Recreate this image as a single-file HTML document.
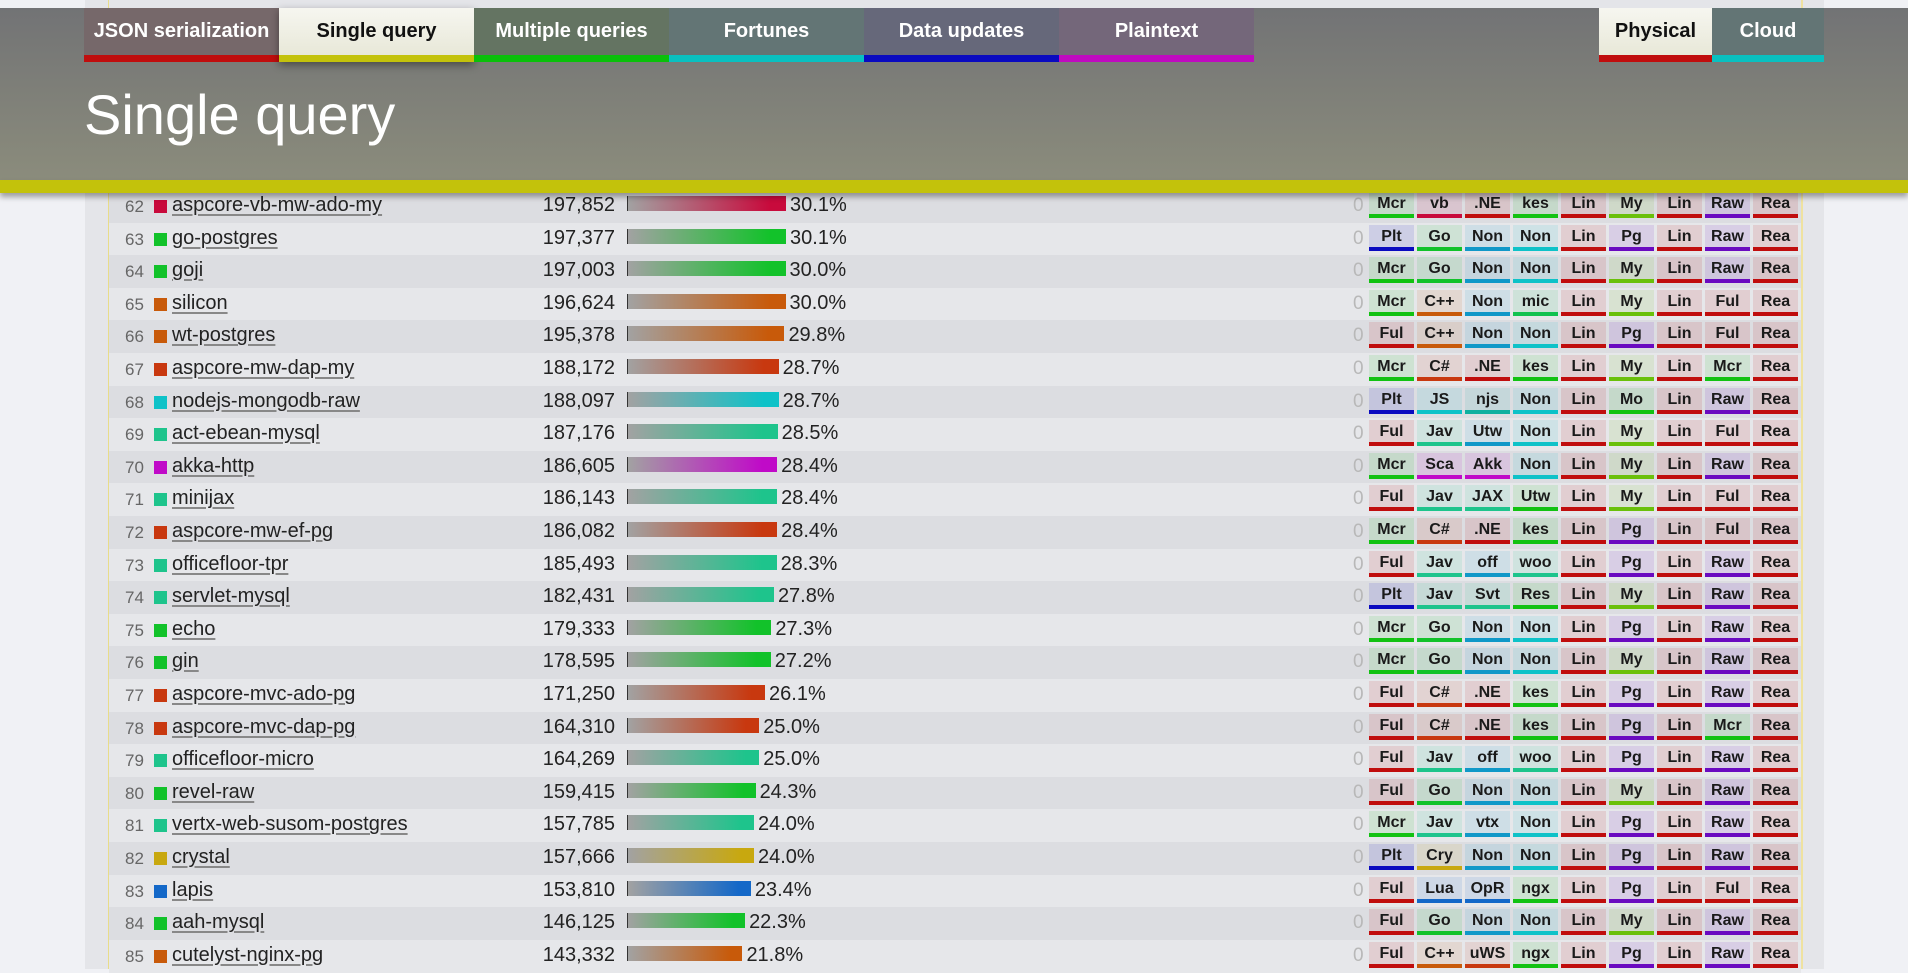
<!DOCTYPE html>
<html><head><meta charset="utf-8">
<style>
html,body{margin:0;padding:0;width:1908px;height:969px;overflow:hidden;background:#f0f1f5;font-family:"Liberation Sans Narrow","Liberation Sans",sans-serif;}
#panel{position:absolute;left:85px;top:0;width:1739px;height:969px;background:#e4e5e9;}
#rows{position:absolute;left:108px;top:0;width:1692px;height:969px;border-left:1px solid #e8dc8a;border-right:2px solid #efe2a0;}
.row{position:absolute;left:0;width:1692px;height:33px;}
.row span{position:absolute;white-space:nowrap;}
.rank{color:#666;font-size:17px;top:7px;}
.sq{width:13px;height:13px;top:10px;}
.nm{color:#222;font-size:20px;top:4px;text-decoration:underline;text-decoration-color:#888;text-underline-offset:3px;}
.val{color:#222;font-size:20px;top:4px;text-align:right;width:110px;}
.bar{top:6px;height:15px;border-left:1px solid #333;}
.pct{color:#222;font-size:20px;top:4px;}
.zero{color:#b8b8b8;font-size:19px;top:5px;}
.cell{top:2px;width:45px;height:26px;text-align:center;font-weight:bold;font-size:16px;line-height:24px;color:#1a1a1a;box-sizing:border-box;border-bottom:4px solid;}
#header{position:absolute;left:0;top:8px;width:1908px;height:172px;background:linear-gradient(#727375,#8b8c7c);}
#band{position:absolute;left:0;top:180px;width:1908px;height:13px;background:#c3c20b;box-shadow:0 4px 6px rgba(0,0,0,.35);}
.tab{position:absolute;top:8px;height:47px;width:195px;text-align:center;color:#fff;font-weight:bold;font-size:20px;line-height:46px;border-bottom:7px solid;}
#title{position:absolute;left:84px;top:82px;color:#fff;font-size:56px;}
</style></head>
<body>
<div id="panel"></div>
<div id="rows"></div>
<div id="header"></div>
<div id="band"></div>
<div class="tab" style="left:84px;background:#76686a;border-color:#c00d0d">JSON serialization</div>
<div class="tab" style="left:279px;background:linear-gradient(#f6f6f0,#e8e8d8);color:#111;border-color:#c3c20b;box-shadow:0 3px 8px rgba(0,0,0,.4)">Single query</div>
<div class="tab" style="left:474px;background:#647462;border-color:#0ac00a">Multiple queries</div>
<div class="tab" style="left:669px;background:#637575;border-color:#0ac0c0">Fortunes</div>
<div class="tab" style="left:864px;background:#66687a;border-color:#0a0ac0">Data updates</div>
<div class="tab" style="left:1059px;background:#74677a;border-color:#c00ac0">Plaintext</div>
<div class="tab" style="left:1599px;width:113px;background:linear-gradient(#f6f6f0,#e8e8d8);color:#111;border-color:#c00d0d">Physical</div>
<div class="tab" style="left:1712px;width:112px;background:#637575;border-color:#0ac0c0">Cloud</div>
<div id="title">Single query</div>
<script>
const ranks=[62,63,64,65,66,67,68,69,70,71,72,73,74,75,76,77,78,79,80,81,82,83,84,85];
const names=["aspcore-vb-mw-ado-my","go-postgres","goji","silicon","wt-postgres","aspcore-mw-dap-my","nodejs-mongodb-raw","act-ebean-mysql","akka-http","minijax","aspcore-mw-ef-pg","officefloor-tpr","servlet-mysql","echo","gin","aspcore-mvc-ado-pg","aspcore-mvc-dap-pg","officefloor-micro","revel-raw","vertx-web-susom-postgres","crystal","lapis","aah-mysql","cutelyst-nginx-pg"];
const values=[197852,197377,197003,196624,195378,188172,188097,187176,186605,186143,186082,185493,182431,179333,178595,171250,164310,164269,159415,157785,157666,153810,146125,143332];
const pcts=[30.1,30.1,30.0,30.0,29.8,28.7,28.7,28.5,28.4,28.4,28.4,28.3,27.8,27.3,27.2,26.1,25.0,25.0,24.3,24.0,24.0,23.4,22.3,21.8];
const langs=["vb","Go","Go","C++","C++","C#","JS","Jav","Sca","Jav","C#","Jav","Jav","Go","Go","C#","C#","Jav","Go","Jav","Cry","Lua","Go","C++"];
const tags=[
"Mcr vb .NE kes Lin My Lin Raw Rea","Plt Go Non Non Lin Pg Lin Raw Rea","Mcr Go Non Non Lin My Lin Raw Rea","Mcr C++ Non mic Lin My Lin Ful Rea",
"Ful C++ Non Non Lin Pg Lin Ful Rea","Mcr C# .NE kes Lin My Lin Mcr Rea","Plt JS njs Non Lin Mo Lin Raw Rea","Ful Jav Utw Non Lin My Lin Ful Rea",
"Mcr Sca Akk Non Lin My Lin Raw Rea","Ful Jav JAX Utw Lin My Lin Ful Rea","Mcr C# .NE kes Lin Pg Lin Ful Rea","Ful Jav off woo Lin Pg Lin Raw Rea",
"Plt Jav Svt Res Lin My Lin Raw Rea","Mcr Go Non Non Lin Pg Lin Raw Rea","Mcr Go Non Non Lin My Lin Raw Rea","Ful C# .NE kes Lin Pg Lin Raw Rea",
"Ful C# .NE kes Lin Pg Lin Mcr Rea","Ful Jav off woo Lin Pg Lin Raw Rea","Ful Go Non Non Lin My Lin Raw Rea","Mcr Jav vtx Non Lin Pg Lin Raw Rea",
"Plt Cry Non Non Lin Pg Lin Raw Rea","Ful Lua OpR ngx Lin Pg Lin Ful Rea","Ful Go Non Non Lin My Lin Raw Rea","Ful C++ uWS ngx Lin Pg Lin Raw Rea"];
const langColor={"vb":"#c80a3c","Go":"#12c22a","C++":"#c85a0a","C#":"#c8380f","JS":"#0ec2c8","Jav":"#1ec48c","Sca":"#c00ac8","Cry":"#c8a80f","Lua":"#1468c8"};
const colColor=[
 {Mcr:"#12c212",Plt:"#0a0ac0",Ful:"#c00d0d"},
 langColor,
 {".NE":"#c00d0d",Non:"#1098c8",mic:"#12c250",njs:"#10b0a0",Utw:"#1098c8",Akk:"#c00ac8",JAX:"#1ec48c",off:"#1098c8",Svt:"#1ec48c",vtx:"#1098c8",OpR:"#1468c8",uWS:"#c8380f"},
 {kes:"#12c212",Non:"#0ec2c8",mic:"#12c250",Utw:"#12c212",woo:"#1ec48c",Res:"#12c212",ngx:"#12c212"},
 {Lin:"#c00d0d"},
 {My:"#6ac00a",Pg:"#6a0ac0",Mo:"#12c212"},
 {Lin:"#c00d0d"},
 {Raw:"#6a0ac0",Ful:"#c00d0d",Mcr:"#12c212"},
 {Rea:"#c00d0d"}];
const rowsEl=document.getElementById('rows');
const rowY=i=>190+i*32.6;
const barW=p=>p*5.25;
ranks.forEach((r,i)=>{
 const row=document.createElement('div');
 row.className='row';
 
 
 row.style.top=rowY(i)+'px';
 row.style.background=i%2===0?'#dcdde1':'#e6e7ea';
 const c=langColor[langs[i]];
 const rk=document.createElement('span');rk.className='rank';rk.style.left='16px';rk.textContent=r;
 
 
 const sq=document.createElement('span');sq.className='sq';sq.style.left='45px';sq.style.background=c;
 
 
 const nm=document.createElement('span');nm.className='nm';nm.style.left='63px';nm.textContent=names[i];
 
 
 const v=document.createElement('span');v.className='val';v.style.left='396px';v.textContent=values[i].toLocaleString('en-US');
 
 
 const b=document.createElement('span');b.className='bar';b.style.left='518px';b.style.width=barW(pcts[i])+'px';
 b.style.background='linear-gradient(90deg,#a2a2a2,'+c+' 90%)';
 
 
 const p=document.createElement('span');p.className='pct';p.style.left=(523+barW(pcts[i]))+'px';p.textContent=pcts[i].toFixed(1)+'%';
 
 
 const z=document.createElement('span');z.className='zero';z.style.left='1244px';z.textContent='0';
 
 
 [rk,sq,nm,v,b,p,z].forEach(e=>row.appendChild(e));
 tags[i].split(' ').forEach((t,j)=>{
  const cell=document.createElement('span');cell.className='cell';
  
  
  const col=colColor[j][t]||'#888888';
  cell.style.left=(1260+j*48)+'px';
  cell.style.borderBottomColor=col;
  cell.style.background=col+'1c';
  cell.textContent=t;
  row.appendChild(cell);
 });
 rowsEl.appendChild(row);
});
</script>
</body></html>
